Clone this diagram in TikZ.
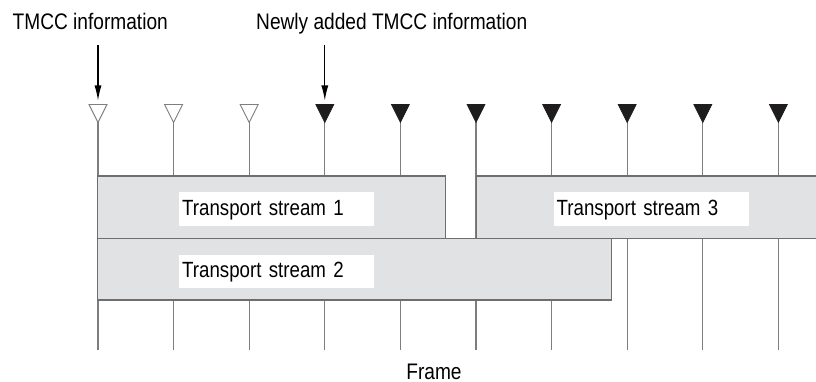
\documentclass[tikz,border=0pt]{standalone}
\usepackage{fontspec}
\setmainfont{Liberation Sans}[FakeStretch=0.85]
\usetikzlibrary{arrows.meta,calc}
\definecolor{boxgray}{HTML}{E1E2E4}
\definecolor{edgegray}{HTML}{6E6E6E}
\definecolor{linegray}{HTML}{7E7E7E}
\definecolor{trifill}{HTML}{1E1C1D}
\begin{document}
\begin{tikzpicture}[x=1pt,y=-1pt,
  lbl/.style={font=\fontsize{22.5}{26}\selectfont, inner sep=0pt},
  streambox/.style={draw=edgegray, line width=1.1pt, fill=boxgray, inner sep=0pt},
  labelbox/.style={fill=white, anchor=north west, inner xsep=3pt, inner ysep=0pt,
     text height=22.7pt, text depth=10.7pt, text width=189pt, align=left,
     font=\fontsize{22}{26}\selectfont},
  tick/.style={draw=linegray, line width=1.1pt},
  hollowtri/.style={draw=linegray, line width=0.9pt, fill=white},
  solidtri/.style={draw=trifill, line width=0.6pt, fill=trifill},
  pointer/.style={draw=black, line width=1.1pt, -{Latex[length=15pt,width=7pt]}}
]
\useasboundingbox (0,0) rectangle (816,382);
% vertical frame lines
\foreach \i in {0,...,9}{
  \pgfmathsetmacro{\xx}{98+75.6*\i}
  \coordinate (t\i) at (\xx,122.5);
  \coordinate (b\i) at (\xx,350);
  \draw[tick] (t\i) -- (b\i);
}
% triangles
\foreach \i in {0,1,2}{
  \draw[hollowtri] ($(t\i)+(-9,-18)$) -- ($(t\i)+(9,-18)$) -- (t\i) -- cycle;
}
\foreach \i in {3,...,9}{
  \draw[solidtri] ($(t\i)+(-9,-18)$) -- ($(t\i)+(9,-18)$) -- (t\i) -- cycle;
}
% stream boxes
\node[streambox, minimum width=347.6pt, minimum height=62.3pt] (s1) at (271.5,207.15) {};
\node[streambox, minimum width=344pt, minimum height=62.3pt, anchor=west] (s3) at (475.7,207.15) {};
\node[streambox, minimum width=514pt, minimum height=61.7pt] (s2) at (354.7,269.15) {};
% labels
\node[labelbox] (l1) at (179,192.3) {Transport stream 1};
\node[labelbox] (l2) at (179,254.5) {Transport stream 2};
\node[labelbox] (l3) at (553.5,192.3) {Transport stream 3};
% headings
\node[lbl, anchor=base west] (h1) at (12.5,29.5) {TMCC information};
\node[lbl, anchor=base west] (h2) at (256,29.5) {Newly added TMCC information};
\coordinate (p1s) at (98,45);
\coordinate (p1e) at (98,100.5);
\coordinate (p2s) at (324.8,45);
\coordinate (p2e) at (324.8,100.5);
\draw[pointer] (p1s) -- (p1e);
\draw[pointer] (p2s) -- (p2e);
\node[lbl, anchor=base] (fr) at (434,379) {Frame};
\end{tikzpicture}
\end{document}
